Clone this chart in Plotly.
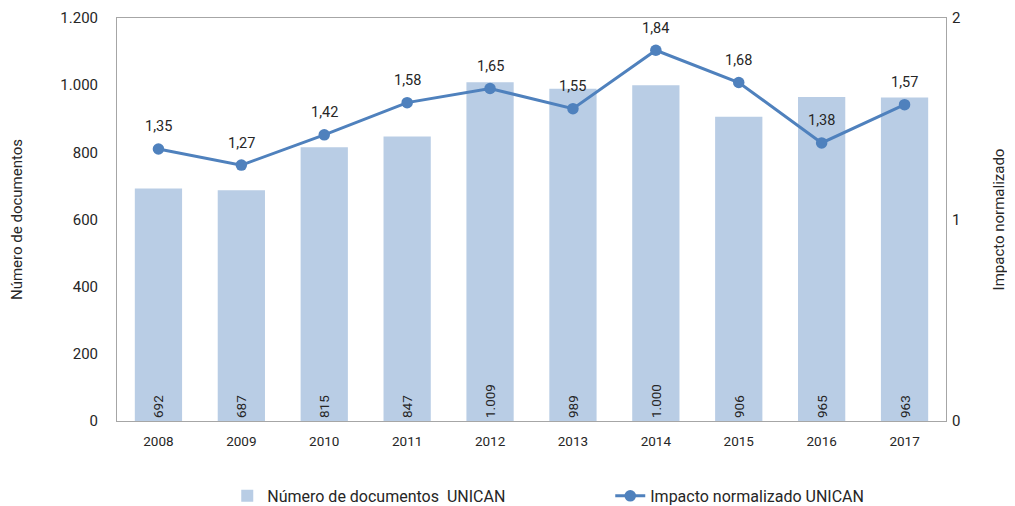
import plotly.graph_objects as go

years = ["2008", "2009", "2010", "2011", "2012", "2013", "2014", "2015", "2016", "2017"]
documentos = [692, 687, 815, 847, 1009, 989, 1000, 906, 965, 963]
impacto = [1.35, 1.27, 1.42, 1.58, 1.65, 1.55, 1.84, 1.68, 1.38, 1.57]

FONT = "Roboto, sans-serif"
BAR = "#B9CDE5"
LINE = "#4F81BD"
TXT = "#262626"

fig = go.Figure()
fig.add_trace(go.Bar(
    x=years, y=documentos, name="Número de documentos  UNICAN",
    marker=dict(color=BAR, line=dict(width=0)),
    texttemplate="%{y:,d}", textposition="inside", insidetextanchor="start",
    textangle=-90, textfont=dict(family=FONT, size=13.5, color=TXT),
    width=0.57,
))
fig.add_trace(go.Scatter(
    x=years, y=impacto, name="Impacto normalizado UNICAN", yaxis="y2",
    mode="lines+markers", line=dict(color=LINE, width=3),
    marker=dict(color=LINE, size=11.5),
))

# data labels above the line points (category index positions on the x axis)
for i, v in enumerate(impacto):
    fig.add_annotation(x=i, y=v, xref="x", yref="y2", text=f"{v:.2f}".replace(".", ","),
                       showarrow=False, yshift=22,
                       font=dict(family=FONT, size=14.5, color=TXT))

fig.update_layout(
    width=1015, height=506,
    margin=dict(l=109, r=77, t=10, b=93, autoexpand=False),
    paper_bgcolor="white", plot_bgcolor="white",
    separators=",.",
    font=dict(family=FONT, size=14, color=TXT),
    showlegend=True,
    legend=dict(orientation="h", x=0.133, xanchor="left", y=-0.186, yanchor="middle",
                font=dict(family=FONT, size=16, color=TXT), entrywidth=338, traceorder="normal"),
    xaxis=dict(type="category", range=[-0.5, len(years) - 0.5], showline=True,
               linecolor="#A6A6A6", linewidth=1, mirror=True,
               automargin=False, ticks="", tickfont=dict(size=13.5), showgrid=False,
               ticklabelstandoff=8),
    yaxis=dict(range=[0, 1200], dtick=200, tickformat=",d", showgrid=False, zeroline=False,
               showline=True, linecolor="#A6A6A6", linewidth=1, mirror=True, automargin=False,
               title=dict(text="Número de documentos", font=dict(size=15), standoff=39),
               tickfont=dict(size=15), ticklabelstandoff=15),
    yaxis2=dict(range=[0, 2], dtick=1, overlaying="y", side="right", showgrid=False,
                zeroline=False, showline=False, automargin=False,
                title=dict(text="Impacto normalizado", font=dict(size=15), standoff=34),
                tickfont=dict(size=15), ticklabelstandoff=5),
    bargap=0.43,
)

fig.write_html("out.html")
